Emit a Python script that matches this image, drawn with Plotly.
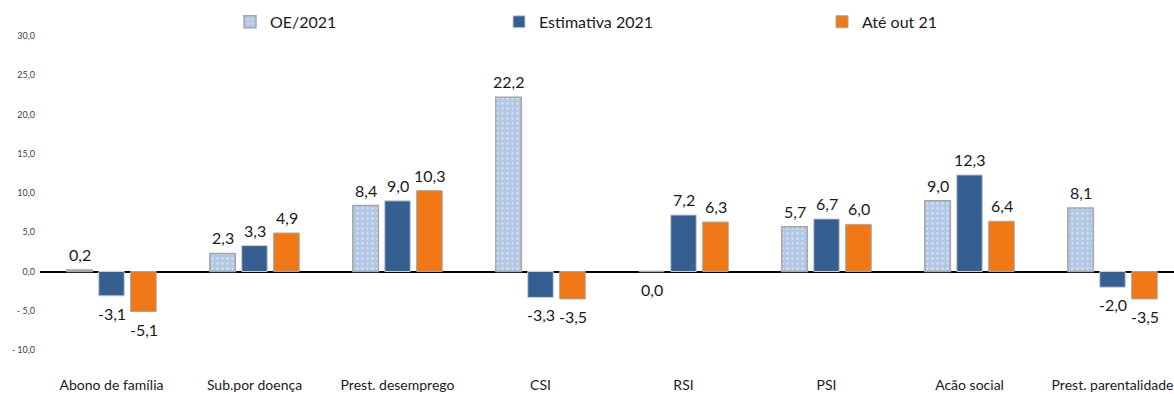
import plotly.graph_objects as go

categories = ["Abono de família", "Sub.por doença", "Prest. desemprego", "CSI", "RSI", "PSI", "Acão social", "Prest. parentalidade"]
oe_2021 = [0.2, 2.3, 8.4, 22.2, 0.0, 5.7, 9.0, 8.1]
estimativa_2021 = [-3.1, 3.3, 9.0, -3.3, 7.2, 6.7, 12.3, -2.0]
ate_out_21 = [-5.1, 4.9, 10.3, -3.5, 6.3, 6.0, 6.4, -3.5]
series_names = ["OE/2021", "Estimativa 2021", "Até out 21"]
y_tickvals = [-10, -5, 0, 5, 10, 15, 20, 25, 30]
y_ticktext = ["- 10,0", "- 5,0", "0,0", "5,0", "10,0", "15,0", "20,0", "25,0", "30,0"]

FONT = "Lato"
fig = go.Figure()
fig.add_trace(go.Bar(
    x=categories, y=oe_2021, name=series_names[0], legendwidth=224,
    marker=dict(color="#B7CBE6", line=dict(color="#A6A6A6", width=1.5),
                pattern=dict(shape=".", fgcolor="#EAF1FA", bgcolor="#B1C7E4", size=5, solidity=0.25)),
))
fig.add_trace(go.Bar(
    x=categories, y=estimativa_2021, name=series_names[1], legendwidth=278,
    marker=dict(color="#355F91", line=dict(color="#C9CED6", width=1)),
))
fig.add_trace(go.Bar(
    x=categories, y=ate_out_21, name=series_names[2], legendwidth=100,
    marker=dict(color="#F07816", line=dict(color="#A6A6A6", width=1)),
))

# value labels
offsets = [-32, 0, 32]
for k, vals in enumerate([oe_2021, estimativa_2021, ate_out_21]):
    for c, v in zip(categories, vals):
        pos = v > 0
        fig.add_annotation(
            x=c, y=v, xref="x", yref="y", xshift=offsets[k],
            yshift=4 if pos else -6,
            yanchor="bottom" if pos else "top",
            text=f"{v:.1f}".replace(".", ","), showarrow=False,
            font=dict(family=FONT, size=16, color="#1a1a1a"),
        )

fig.update_layout(
    width=1174, height=394,
    margin=dict(l=40, r=0, t=36, b=44, autoexpand=False),
    paper_bgcolor="white", plot_bgcolor="white",
    barmode="group", bargap=0.33, bargroupgap=0.2,
    font=dict(family=FONT, color="#1a1a1a"),
    showlegend=True,
    legend=dict(orientation="h", x=(230 - 40) / 1134, xanchor="left", y=1.045, yanchor="middle",
                font=dict(family=FONT, size=16, color="#1a1a1a"),
                bgcolor="rgba(0,0,0,0)", itemwidth=30, tracegroupgap=0),
    xaxis=dict(range=[-0.5, 7.43], showgrid=False, showline=False, ticks="",
               tickfont=dict(family=FONT, size=14, color="#1a1a1a"),
               ticklabelstandoff=25, automargin=False),
    yaxis=dict(range=[-10, 30], tickvals=y_tickvals, ticktext=y_ticktext,
               showgrid=False, showline=False, ticks="",
               zeroline=True, zerolinecolor="#000000", zerolinewidth=1.5,
               tickfont=dict(family=FONT, size=9, color="#404040"),
               ticklabelstandoff=4, automargin=False),
)

fig.write_html("out.html")
